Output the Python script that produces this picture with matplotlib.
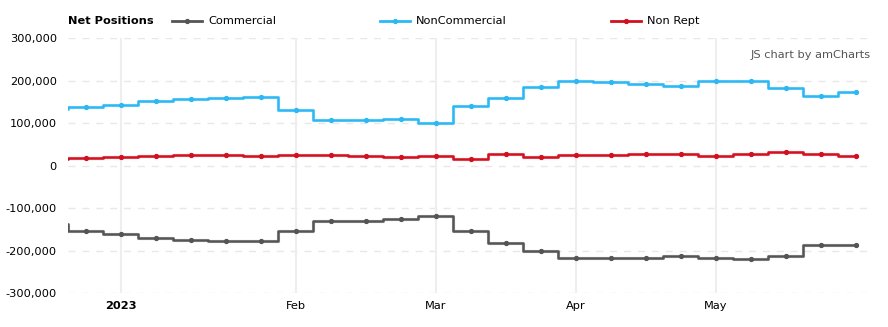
import matplotlib
matplotlib.use('Agg')
import matplotlib.pyplot as plt
from matplotlib.lines import Line2D
from matplotlib.ticker import FuncFormatter

# weekly report dates (Tuesdays), Dec 20 2022 .. May 30 2023
dates = ['2022-12-20', '2022-12-27',
         '2023-01-03', '2023-01-10', '2023-01-17', '2023-01-24', '2023-01-31',
         '2023-02-07', '2023-02-14', '2023-02-21', '2023-02-28',
         '2023-03-07', '2023-03-14', '2023-03-21', '2023-03-28',
         '2023-04-04', '2023-04-11', '2023-04-18', '2023-04-25',
         '2023-05-02', '2023-05-09', '2023-05-16', '2023-05-23', '2023-05-30']

commercial = [-138000, -153000, -160000, -171500, -174500, -178500, -178500,
              -153000, -129500, -129500, -127000, -118000,
              -155000, -183000, -200000, -216500, -216500, -216500, -212000,
              -216500, -221000, -212000, -186000, -188000]

noncommercial = [132000, 137500, 142500, 152500, 155500, 159500, 162000,
                 131500, 108000, 108000, 110500, 100000,
                 140500, 160000, 184000, 198000, 195500, 191000, 186000,
                 198000, 198000, 181500, 162500, 172000]

nonrept = [15000, 18000, 21000, 23500, 25000, 25000, 22800,
           25000, 25000, 22800, 20400, 22800,
           15700, 27500, 20400, 25000, 25000, 27500, 27500,
           22800, 27500, 32000, 27500, 22800]

month_ticks = ['2023-01-03', '2023-02-07', '2023-03-07', '2023-04-04', '2023-05-02']
month_labels = ['2023', 'Feb', 'Mar', 'Apr', 'May']

series = [('Commercial', commercial, '#555555'),
          ('NonCommercial', noncommercial, '#2cb8f5'),
          ('Non Rept', nonrept, '#d2101f')]

plt.rcParams['font.family'] = ['DejaVu Sans']

fig = plt.figure(figsize=(8.88, 3.27), dpi=100)
ax = fig.add_axes([68/888, 1 - 293/327, (873-68)/888, (293-38)/327])

X = list(range(len(dates)))
for name, vals, col in series:
    ax.step(X, vals, where='mid', color=col, lw=2.4, alpha=0.2, zorder=2)
    ax.step(X, vals, where='mid', color=col, lw=1.8, zorder=3)
    ax.plot(X, vals, 'o', color=col, ms=2.8, zorder=4)

ax.set_xlim(0.5, len(dates) - 0.5)
ax.set_ylim(-300000, 300000)
ax.set_yticks(range(-300000, 300001, 100000))
ax.yaxis.set_major_formatter(FuncFormatter(lambda v, p: '{:,.0f}'.format(v)))

tick_pos = [dates.index(d) for d in month_ticks]
ax.set_xticks(tick_pos)
ax.set_xticklabels(month_labels)
ax.get_xticklabels()[0].set_fontweight('bold')

for y in range(-300000, 300001, 100000):
    ax.axhline(y, color='#e8e8e8', lw=1, ls=(0, (5, 5)), zorder=1)
for t in tick_pos:
    ax.axvline(t, color='#eeeeee', lw=1.5, zorder=1)

for s in ax.spines.values():
    s.set_visible(False)
ax.tick_params(length=0, labelsize=8.2, colors='#000000')
ax.tick_params(axis='y', pad=8)
ax.tick_params(axis='x', pad=6)

ax.text(0.997, 0.935, 'JS chart by amCharts', transform=ax.transAxes,
        ha='right', va='center', fontsize=8.2, color='#555555')

# legend row
ly = 1 - 21/327
fig.text(68/888, ly, 'Net Positions', fontsize=8.2, fontweight='bold', va='center')
legend_x = [172, 380, 611]
for (name, vals, col), lx in zip(series, legend_x):
    fig.add_artist(Line2D([lx/888, (lx+30)/888], [ly, ly], color=col, lw=2,
                          transform=fig.transFigure))
    fig.add_artist(Line2D([(lx+15)/888], [ly], marker='o', ms=2.8, color=col,
                          transform=fig.transFigure))
    fig.text((lx+36)/888, ly, name, fontsize=8.2, va='center')

fig.savefig('out.png', dpi=100)
